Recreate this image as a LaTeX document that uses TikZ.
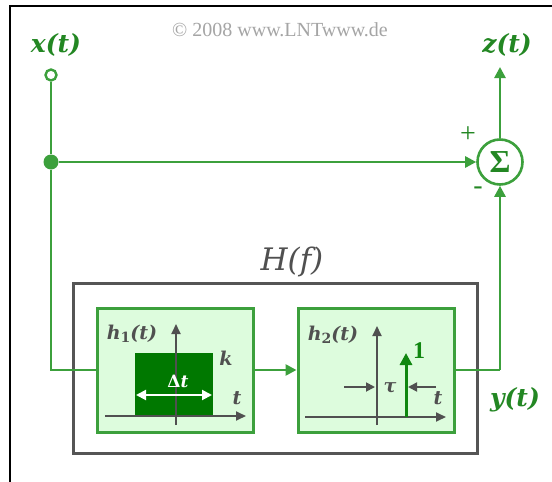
\documentclass[tikz,border=0pt]{standalone}
\usepackage{fontspec}
\setmainfont{Liberation Serif}
\newfontfamily\djs{DejaVu Serif}
\usetikzlibrary{arrows.meta}
\definecolor{lgreen}{RGB}{60,160,60}
\definecolor{tgreen}{RGB}{35,135,35}
\definecolor{bfill}{RGB}{221,252,221}
\definecolor{dgreen}{RGB}{0,120,0}
\definecolor{pgreen}{RGB}{16,135,16}
\definecolor{boxgray}{RGB}{85,85,85}
\definecolor{axgray}{RGB}{80,80,80}
\definecolor{cgray}{RGB}{165,165,165}
\tikzset{
  wire/.style={draw=lgreen, line width=2.6pt},
  arr/.style={-{Triangle[length=11pt,width=11pt]}},
  inport/.style={circle, draw=lgreen, fill=white, line width=2.4pt, inner sep=0pt, minimum size=11pt},
  splitdot/.style={circle, fill=lgreen, inner sep=0pt, minimum size=15pt},
  sumnode/.style={circle, draw=lgreen, fill=white, line width=2.6pt, inner sep=0pt, minimum size=45pt, text=tgreen, font=\fontsize{32}{32}\selectfont\bfseries},
  block/.style={draw=lgreen, fill=bfill, line width=3pt, minimum width=156pt, minimum height=124pt, inner sep=0pt},
  outerbox/.style={draw=boxgray, line width=3pt, minimum width=404pt, minimum height=170pt, inner sep=0pt},
  siglabel/.style={text=tgreen, font=\djs\fontsize{25}{25}\selectfont\bfseries\itshape},
  hlabel/.style={text=axgray, font=\djs\fontsize{31}{31}\selectfont\itshape},
  implabel/.style={text=axgray, font=\djs\fontsize{19}{19}\selectfont\bfseries\itshape, inner sep=0pt},
  axis/.style={draw=axgray, line width=1.8pt, -{Triangle[length=10pt,width=9pt]}},
  smallarr/.style={draw=axgray, line width=1.8pt, -{Triangle[length=9pt,width=9pt]}},
  pm/.style={text=tgreen, font=\fontsize{28}{28}\selectfont, inner sep=0pt}
}
\begin{document}
\begin{tikzpicture}[x=1pt,y=-1pt]
\useasboundingbox (0,0) rectangle (552,482);
\fill[white] (0,0) rectangle (552,482);
\draw[black, line width=2pt] (10,482) -- (10,6) -- (552,6);

% copyright
\node[text=cgray, font=\fontsize{20}{20}\selectfont] (copy) at (280,30) {© 2008 www.LNTwww.de};

% outer box H(f)
\node[outerbox] (H) at (275,368) {};
\node[hlabel] (Hl) at (292,262) {H(f)};

% blocks
\node[block] (h1) at (175,370) {};
\node[block] (h2) at (376,370) {};

% sum
\node[sumnode] (sum) at (500,162) {Σ};
\node[pm] (plus) at (468,135) {+};
\node[pm] (minus) at (478,191) {-};

% ports
\node[inport] (xin) at (51,75) {};
\node[splitdot] (split) at (51,162) {};
\coordinate (zout) at (500,67);
\coordinate (corner) at (500,370);

\node[siglabel] (xl) at (56,45) {x(t)};
\node[siglabel] (zl) at (507,45) {z(t)};
\node[siglabel] (yl) at (515,400) {y(t)};

% wires
\draw[wire] (xin) -- (split);
\draw[wire] (split) |- (h1.west);
\draw[wire,arr] (split) -- (sum);
\draw[wire,arr] (h1) -- (h2);
\draw[wire] (h2.east) -- (corner);
\draw[wire,arr] (corner) -- (sum.south);
\draw[wire,arr] (sum.north) -- (zout);

% h1 contents
\fill[dgreen] (135,353) rectangle (213,416);
\coordinate (a1b) at (176,425); \coordinate (a1t) at (176,324);
\coordinate (b1l) at (105,416); \coordinate (b1r) at (246,416);
\draw[axis] (a1b) -- (a1t);
\draw[axis] (b1l) -- (b1r);
\coordinate (w1) at (136,395); \coordinate (w2) at (212,395);
\draw[white, line width=2pt, {Triangle[length=10pt,width=10pt]}-{Triangle[length=10pt,width=10pt]}] (w1) -- (w2);
\node[text=white, font=\djs\fontsize{17}{17}\selectfont\bfseries, inner sep=0pt] (dt) at (178,381) {Δ\textit{t}};
\node[implabel] (h1l) at (132,334) {h\raisebox{-0.35ex}{\fontsize{14}{14}\selectfont\upshape 1}(t)};
\node[implabel] (kl) at (226,358) {k};
\node[implabel] (t1) at (237,398) {t};

% h2 contents
\coordinate (a2b) at (377,425); \coordinate (a2t) at (377,326);
\coordinate (b2l) at (305,417); \coordinate (b2r) at (446,417);
\draw[axis] (a2b) -- (a2t);
\draw[axis] (b2l) -- (b2r);
\coordinate (p0) at (406,417); \coordinate (p1) at (406,353);
\draw[draw=pgreen, line width=3pt, -{Triangle[length=12pt,width=12pt]}] (p0) -- (p1);
\node[text=pgreen, font=\fontsize{24}{24}\selectfont\bfseries, inner sep=0pt] (one) at (419,351) {1};
\coordinate (l0) at (344,387); \coordinate (l1) at (375,387);
\coordinate (r0) at (436,387); \coordinate (r1) at (408,387);
\draw[smallarr] (l0) -- (l1);
\draw[smallarr] (r0) -- (r1);
\node[implabel] (tau) at (390,388) {τ};
\node[implabel] (t2) at (438,398) {t};
\node[implabel] (h2l) at (333,335) {h\raisebox{-0.35ex}{\fontsize{14}{14}\selectfont\upshape 2}(t)};
\end{tikzpicture}
\end{document}
